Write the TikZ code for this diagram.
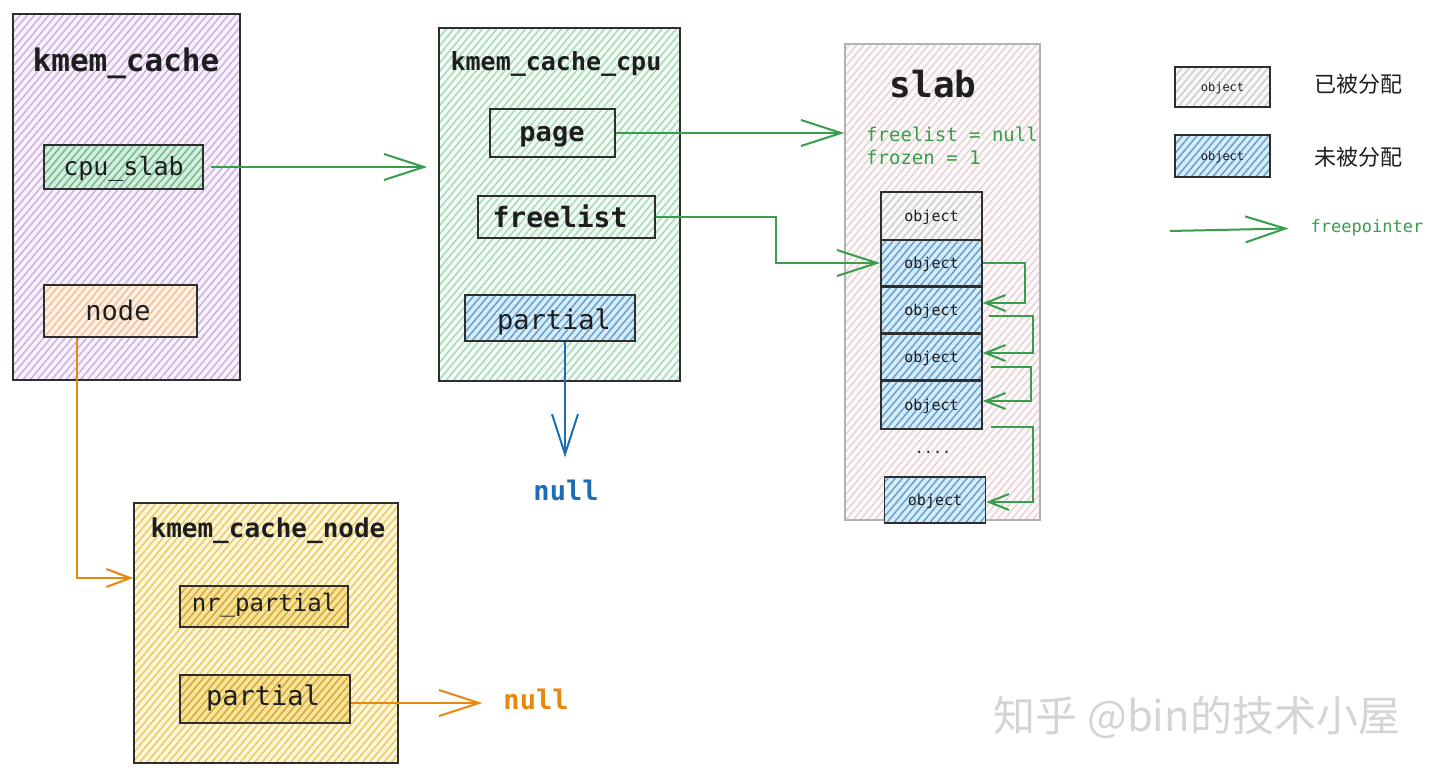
\documentclass[tikz,border=0pt]{standalone}
\usepackage{fontspec}
\setmainfont{DejaVu Sans}
\setmonofont{DejaVu Sans Mono}
\newfontfamily\cjk{Noto Sans CJK SC}
\usetikzlibrary{arrows.meta,patterns.meta,calc}
\definecolor{ink}{HTML}{1E1E1E}
\definecolor{edge}{HTML}{2E2E2E}
\definecolor{kcfill}{HTML}{F8F3FB}\definecolor{kcline}{HTML}{CBB0E2}
\definecolor{cpufill}{HTML}{F3FAF5}\definecolor{cpuline}{HTML}{A6D9B5}
\definecolor{csfill}{HTML}{D6EEE0}\definecolor{csline}{HTML}{70B98C}
\definecolor{ndfill}{HTML}{FDF0E4}\definecolor{ndline}{HTML}{F1C095}
\definecolor{knfill}{HTML}{FDF6DC}\definecolor{knline}{HTML}{ECCB5C}
\definecolor{kifill}{HTML}{F7E3A0}\definecolor{kiline}{HTML}{D8A828}
\definecolor{slfill}{HTML}{FDF9F9}\definecolor{slline}{HTML}{E4D3D6}
\definecolor{alfill}{HTML}{F8F8F8}\definecolor{alline}{HTML}{CDCDCD}
\definecolor{frfill}{HTML}{D8ECF6}\definecolor{frline}{HTML}{649FD2}
\definecolor{garr}{HTML}{389E4C}
\definecolor{oarr}{HTML}{E8870E}
\definecolor{barr}{HTML}{1C6DB8}
\definecolor{wm}{HTML}{D4D4D4}
\begin{document}
\begin{tikzpicture}[x=1pt,y=-1pt,
  box/.style={draw=edge, line width=1.6pt, inner sep=0pt, rectangle},
  hatch/.style 2 args={preaction={fill=#1}, pattern={Lines[angle=50,distance=5.5pt,line width=1.5pt]}, pattern color=#2},
  lbl/.style={inner sep=0pt, text=ink, font={\ttfamily\fontsize{#1pt}{#1pt}\selectfont}},
  blbl/.style={inner sep=0pt, text=ink, font={\ttfamily\bfseries\fontsize{#1pt}{#1pt}\selectfont}},
  bigarrow/.style={line width=2pt, -{Straight Barb[length=40pt,width=26pt]}},
  smallarrow/.style={line width=2pt, -{Straight Barb[length=20pt,width=16pt]}},
  objfree/.style={box, hatch={frfill}{frline}, minimum width=101pt},
  objused/.style={box, hatch={alfill}{alline}, minimum width=101pt}
]
\useasboundingbox (0,0) rectangle (1440,775);
\fill[white] (0,0) rectangle (1440,775);

% kmem_cache
\node[box, hatch={kcfill}{kcline}, minimum width=227pt, minimum height=366pt] (kc) at (126.5,197) {};
\node[blbl=31] (kct) at (126,63) {kmem\_cache};
\node[box, hatch={csfill}{csline}, minimum width=159pt, minimum height=44pt] (cpuslab) at (123.5,167) {};
\node[lbl=25] (cpuslabt) at (123.5,169) {cpu\_slab};
\node[box, hatch={ndfill}{ndline}, minimum width=153pt, minimum height=52pt] (nodeb) at (120.5,311) {};
\node[lbl=27] (nodet) at (118,310) {node};

% kmem_cache_cpu
\node[box, hatch={cpufill}{cpuline}, minimum width=241pt, minimum height=353pt] (cpu) at (559.5,204.5) {};
\node[blbl=25] (cput) at (556,64) {kmem\_cache\_cpu};
\node[box, minimum width=125pt, minimum height=48pt] (page) at (552.5,133) {};
\node[blbl=27] (paget) at (552,137) {page};
\node[box, minimum width=177pt, minimum height=42pt] (freelist) at (566.5,217) {};
\node[blbl=28] (freelistt) at (560,216) {freelist};
\node[box, hatch={frfill}{frline}, minimum width=170pt, minimum height=46pt] (cpartial) at (550,318) {};
\node[lbl=27] (cpartialt) at (554,322) {partial};
\node[blbl=27, text=barr] (bnull) at (566,490) {null};

% slab
\node[draw=black!30, line width=1.4pt, inner sep=0pt, hatch={slfill}{slline}, minimum width=195pt, minimum height=476pt] (slab) at (942.5,282) {};
\node[blbl=36] (slabt) at (933,84) {slab};
\node[lbl=19, text=garr, anchor=west] (fl) at (866,134) {freelist = null};
\node[lbl=19, text=garr, anchor=west] (fz) at (866,157) {frozen = 1};
\node[objused, minimum height=48pt] (o1) at (931.5,216) {};
\node[objfree, minimum height=46pt] (o2) at (931.5,263) {};
\node[objfree, minimum height=46pt] (o3) at (931.5,310) {};
\node[objfree, minimum height=46pt] (o4) at (931.5,357) {};
\node[objfree, minimum height=48pt] (o5) at (931.5,405) {};
\node[objfree, minimum height=46pt] (o6) at (935,500) {};
\foreach \o in {o1,o2,o3,o4,o5,o6}{\node[lbl=15] at ([yshift=-1.5pt]\o) {object};}
\node[lbl=15] (dots) at (933,452) {....};

% legend
\node[objused, minimum width=95pt, minimum height=40pt] (lo1) at (1222.5,87) {};
\node[lbl=12] at ([yshift=-1.5pt]lo1) {object};
\node[objfree, minimum width=95pt, minimum height=42pt] (lo2) at (1222.5,156) {};
\node[lbl=12] at ([yshift=-1.5pt]lo2) {object};
\node[inner sep=0pt, text=ink, font={\cjk\fontsize{22pt}{22pt}\selectfont}] (lt1) at (1358,84) {已被分配};
\node[inner sep=0pt, text=ink, font={\cjk\fontsize{22pt}{22pt}\selectfont}] (lt2) at (1358,157) {未被分配};
\coordinate (lgs) at (1170,231);
\node[lbl=17, text=garr] (fp) at (1367,228) {freepointer};

% kmem_cache_node
\node[box, hatch={knfill}{knline}, minimum width=264pt, minimum height=260pt] (kcn) at (266,633) {};
\node[blbl=26] (kcnt) at (268,531) {kmem\_cache\_node};
\node[box, hatch={kifill}{kiline}, minimum width=168pt, minimum height=41pt] (nrp) at (264,606.5) {};
\node[lbl=24] (nrpt) at (264,605) {nr\_partial};
\node[box, hatch={kifill}{kiline}, minimum width=170pt, minimum height=48pt] (npart) at (265,699) {};
\node[lbl=27] (npartt) at (263,698) {partial};
\node[blbl=27, text=oarr] (onull) at (536,699) {null};

% watermark
\node[inner sep=0pt, text=wm, font={\cjk\fontsize{42pt}{42pt}\selectfont}] (wmk) at (1197,717) {知乎 @bin的技术小屋};

% connectors
\draw[bigarrow, garr, shorten <=7pt, shorten >=11pt] (cpuslab.east) -- (cpuslab.east -| cpu.west);
\draw[bigarrow, garr] (page.east) -- (page.east -| slab.west);
\draw[bigarrow, garr] (freelist.east) -- ++(120,0) |- (o2.west);
\draw[bigarrow, barr, shorten >=22pt] ([xshift=15pt]cpartial.south) -- ([xshift=15pt]cpartial.south |- bnull.north);
\draw[oarr, line width=2pt, -{Straight Barb[length=24pt,width=18pt]}] ([xshift=-43.5pt]nodeb.south) |- ([yshift=55pt]kcn.west);
\draw[bigarrow, oarr, shorten >=21pt] ([yshift=-4pt]npart.east) -- ([yshift=-4pt]npart.east -| onull.west);
\draw[bigarrow, garr, shorten >=22pt] (lgs) -- (fp.west);
\draw[smallarrow, garr] (o2.east) -- ++(42,0) |- ([yshift=7pt]o3.east);
\draw[smallarrow, garr] ([xshift=6pt,yshift=-6pt]o3.east) -- ++(44,0) |- ([yshift=4pt]o4.east);
\draw[smallarrow, garr] ([xshift=8pt,yshift=-10pt]o4.east) -- ++(40,0) |- ([yshift=4pt]o5.east);
\draw[smallarrow, garr] ([xshift=8pt,yshift=-22pt]o5.east) -- ++(42,0) |- ([yshift=-2pt]o6.east);
\end{tikzpicture}
\end{document}
